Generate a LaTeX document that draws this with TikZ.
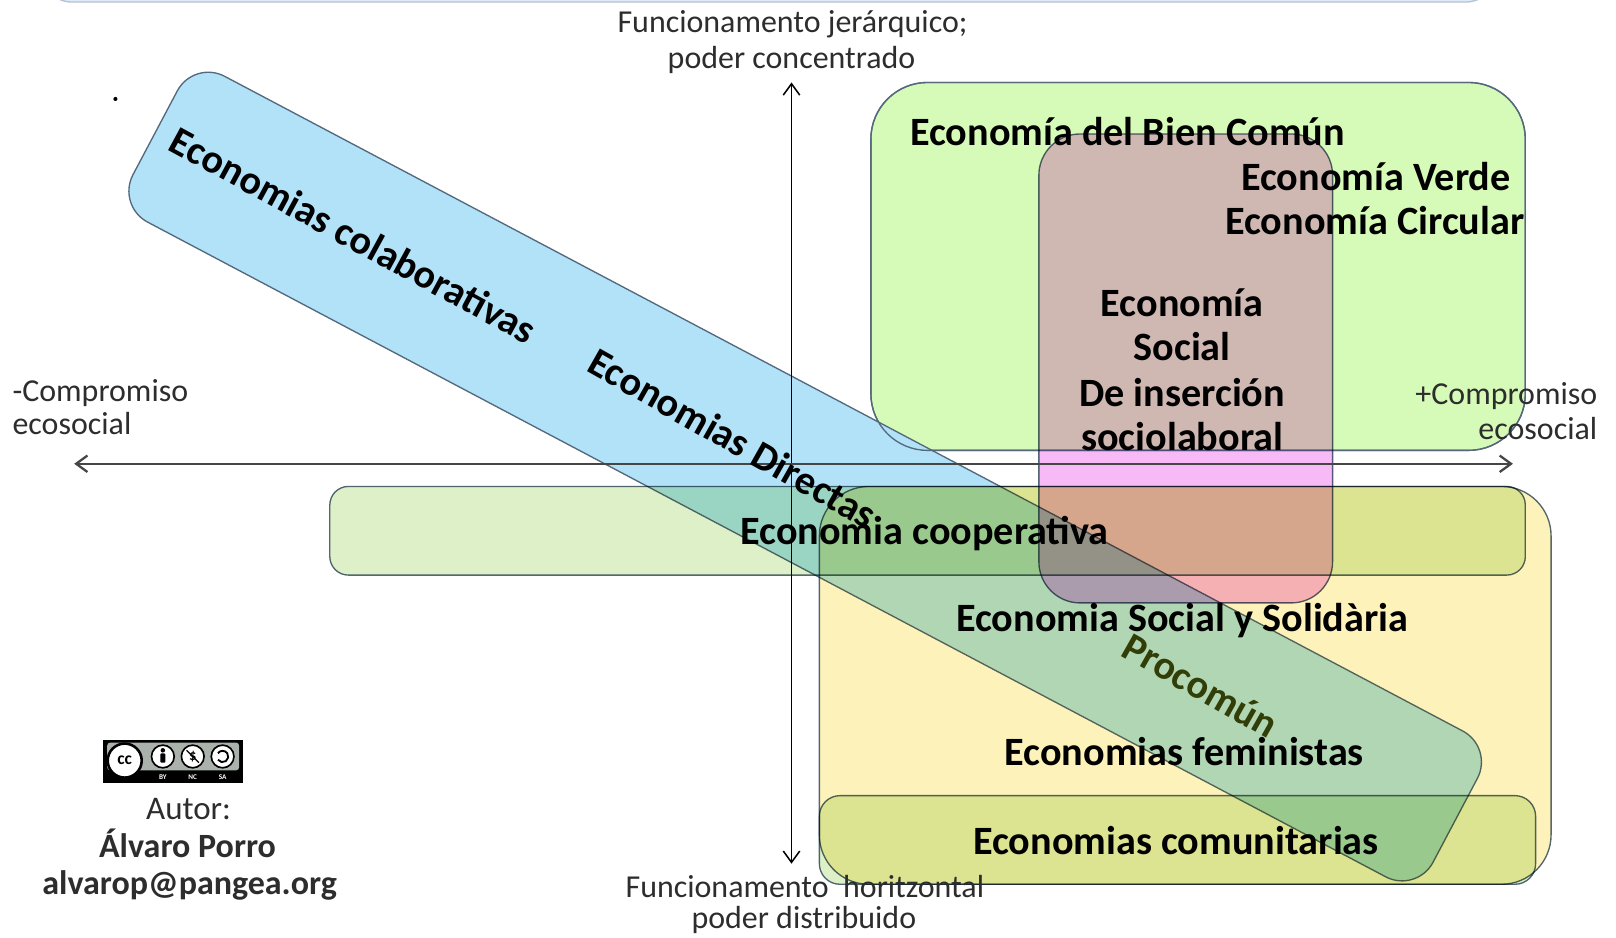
\documentclass[tikz,border=0pt]{standalone}
\usepackage{fontspec}
\setmainfont{Carlito}
\usetikzlibrary{arrows.meta}
\definecolor{boxline}{RGB}{85,105,125}
\definecolor{greenc}{RGB}{214,251,184}
\definecolor{pinkc}{RGB}{247,186,247}
\definecolor{coopc}{RGB}{222,240,200}
\definecolor{yellowc}{RGB}{253,242,185}
\definecolor{bluec}{RGB}{178,226,248}
\definecolor{topc}{RGB}{222,234,247}
\definecolor{axtext}{RGB}{45,45,45}
\definecolor{prococ}{RGB}{50,62,8}
\definecolor{ccgray}{RGB}{170,178,171}
\tikzset{
  box/.style={draw=boxline, line width=1.3pt, rectangle, inner sep=0pt, outer sep=0pt},
  lbl/.style={font=\fontsize{39}{43}\selectfont\bfseries, inner sep=0pt, anchor=base},
  rlbl/.style={font=\fontsize{39}{43}\selectfont\bfseries, inner sep=0pt},
  axl/.style={font=\fontsize{31}{34}\selectfont, text=axtext, inner sep=0pt, anchor=base},
  axisarrow/.style={line width=1.5pt, {Straight Barb[length=11pt,width=16pt]}-{Straight Barb[length=11pt,width=16pt]}},
  bienshape/.style={box, rounded corners=55pt, minimum width=635pt, minimum height=357pt},
}
\begin{document}
\begin{tikzpicture}[x=1pt,y=-1pt]
\useasboundingbox (0,0) rectangle (1568,910);
\fill[white] (0,0) rectangle (1568,910);
\begin{scope}
  \clip (0,0) rectangle (1568,910);
  \node[draw=topc!70!boxline, line width=1.3pt, fill=topc, rounded corners=30pt,
        minimum width=1412pt, minimum height=84pt, inner sep=0pt] (topbox) at (746,-40) {};
\end{scope}
% stray dot
\fill (112,96) circle (2pt);
% green box, then the blue band over it
\node[bienshape, fill=greenc] (bien) at (1162.5,258.5) {};
\node[box, fill=bluec, rounded corners=34pt, rotate=-27.87, minimum width=1427pt, minimum height=160pt] (band) at (781.25,462.4) {};
\node[bienshape] (bienline) at (1162.5,258.5) {};
% translucent shapes
\begin{scope}[blend mode=multiply]
  \node[box, fill=yellowc, rounded corners=48pt, minimum width=710pt, minimum height=386pt] (ess) at (1150,665) {};
  \node[box, fill=coopc, rounded corners=18pt, minimum width=1160pt, minimum height=86pt] (coop) at (900,515) {};
  \node[box, fill=coopc, rounded corners=20pt, minimum width=695pt, minimum height=86pt] (comu) at (1142.5,815) {};
  \node[box, fill=pinkc, rounded corners=40pt, minimum width=285pt, minimum height=455pt] (social) at (1150.5,357.5) {};
\end{scope}
% axes
\coordinate (vtop) at (768,80);
\coordinate (vbot) at (768,838);
\coordinate (hleft) at (72,450);
\coordinate (hright) at (1468,450);
\draw[axisarrow, black] (vbot) -- (vtop);
\draw[axisarrow, line width=2.2pt, draw={rgb,255:red,70;green,70;blue,70}] (hleft) -- (hright);
% axis labels
\node[axl] (t1) at (769,32) {Funcionamento jerárquico;};
\node[axl] (t2) at (768,66) {poder concentrado};
\node[axl, anchor=base west] (l1) at (12,390) {-Compromiso};
\node[axl, anchor=base west] (l2) at (12,422) {ecosocial};
\node[axl, anchor=base east] (r1) at (1550,392) {+Compromiso};
\node[axl, anchor=base east] (r2) at (1550,426) {ecosocial};
\node[axl] (b1) at (781,871) {Funcionamento\ \ horitzontal};
\node[axl] (b2) at (780,901) {poder distribuido};
% labels
\node[lbl] (lbien) at (1094,141) {Economía del Bien Común};
\node[lbl] (lverde) at (1335,185) {Economía Verde};
\node[lbl] (lcirc) at (1334,228) {Economía Circular};
\node[lbl] (ls1) at (1147,307) {Economía};
\node[lbl] (ls2) at (1147,350) {Social};
\node[lbl] (ls3) at (1147,394) {De inserción};
\node[lbl] (ls4) at (1147,437) {sociolaboral};
\node[lbl] (lcoop) at (897,528) {Economia cooperativa};
\node[lbl] (less) at (1147,613) {Economia Social y Solidària};
\node[lbl] (lfem) at (1149,743) {Economias feministas};
\node[lbl] (lcomu) at (1141,829) {Economias comunitarias};
\node[rlbl, rotate=-28.5] (lcolab) at (343,228) {Economias colaborativas};
\node[rlbl, rotate=-29.5] (ldir) at (711,425) {Economias Directas};
\node[rlbl, rotate=-29.5, text=prococ] (lproc) at (1165,665) {Procomún};
% CC badge
\node[fill=black, minimum width=136pt, minimum height=42pt, inner sep=0pt] (ccbadge) at (168,739) {};
\node[fill=ccgray, rounded corners=3pt, minimum width=128pt, minimum height=27pt, inner sep=0pt] (ccpanel) at (168,734) {};
\node[circle, draw=black, line width=2.5pt, fill=white, minimum size=33pt, inner sep=0pt,
      font=\fontsize{17}{17}\selectfont\bfseries] (cclogo) at (121,738) {cc};
\node[circle, draw=black, line width=1.6pt, fill=white, minimum size=22pt, inner sep=0pt] (ccby) at (158,734) {};
\node[circle, draw=black, line width=1.6pt, fill=white, minimum size=22pt, inner sep=0pt] (ccnc) at (187,734) {};
\node[circle, draw=black, line width=1.6pt, fill=white, minimum size=22pt, inner sep=0pt] (ccsa) at (216,734) {};
\fill (158,728) circle (2.2pt);
\fill[rounded corners=1pt] (155.5,731) rectangle (160.5,740);
\node[font=\fontsize{14}{14}\selectfont\bfseries, inner sep=0pt] (ncsym) at (187,734) {\$};
\draw[line width=1.2pt] (181,728) -- (193,740);
\draw[line width=1.8pt] (216,734) ++(145:5.5) arc[start angle=145, end angle=-145, radius=5.5];
\node[text=white, font=\fontsize{7}{7}\selectfont\bfseries, inner sep=0pt] (tby) at (158,754) {BY};
\node[text=white, font=\fontsize{7}{7}\selectfont\bfseries, inner sep=0pt] (tnc) at (187,754) {NC};
\node[text=white, font=\fontsize{7}{7}\selectfont\bfseries, inner sep=0pt] (tsa) at (216,754) {SA};
% author
\node[font=\fontsize{32}{36}\selectfont, text=axtext, inner sep=0pt, anchor=base] (autor) at (183,795) {Autor:};
\node[font=\fontsize{33}{36}\selectfont\bfseries, text=axtext, inner sep=0pt, anchor=base] (alvaro) at (182,832) {Álvaro Porro};
\node[font=\fontsize{33}{36}\selectfont\bfseries, text=axtext, inner sep=0pt, anchor=base] (email) at (184,868) {alvarop@pangea.org};
\end{tikzpicture}
\end{document}
